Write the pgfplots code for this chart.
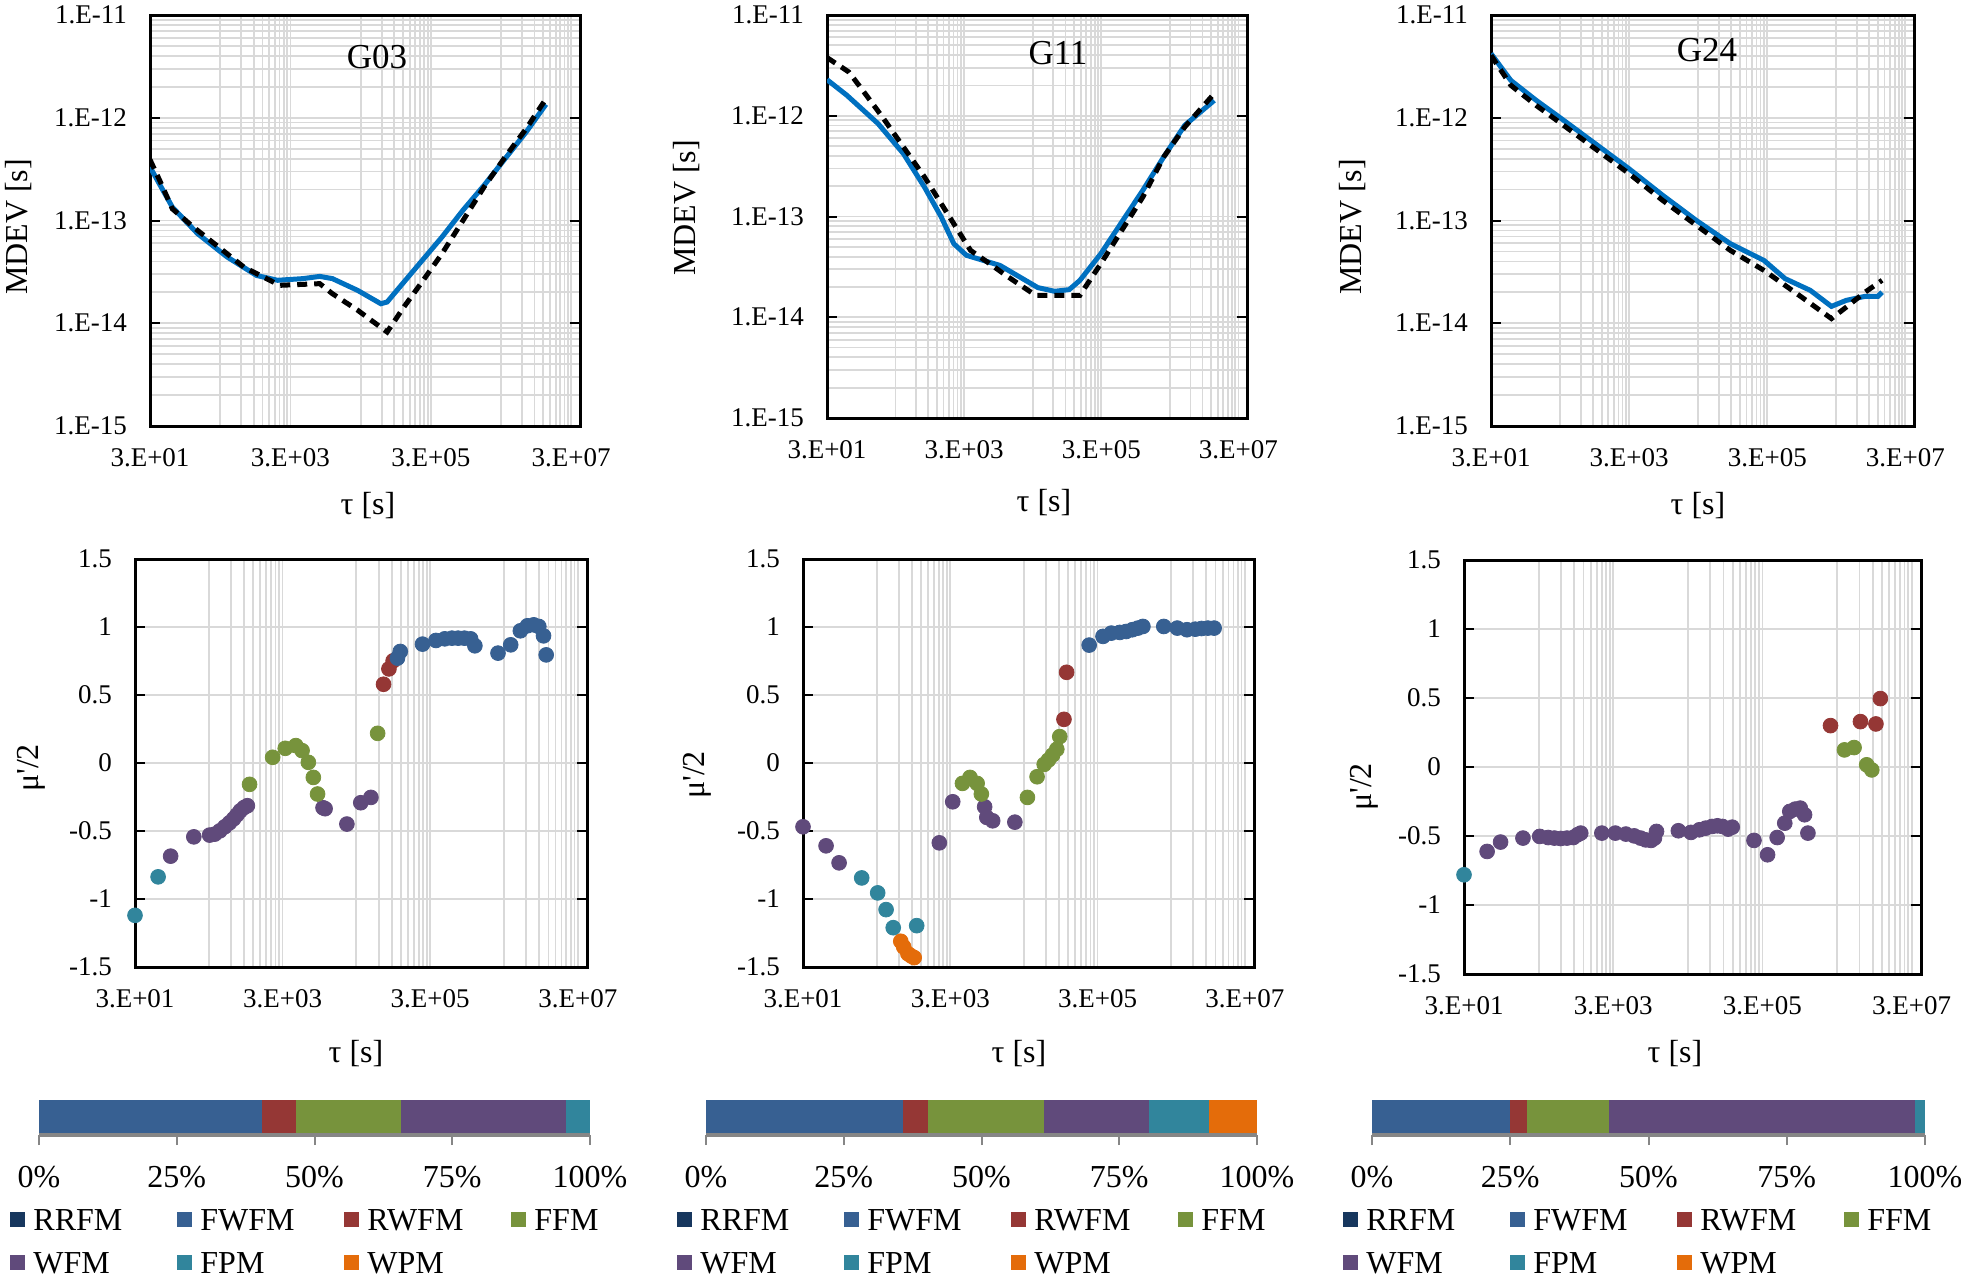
\documentclass[border=0pt]{standalone}
\usepackage{fontspec}
\setmainfont{Liberation Serif}
\newfontfamily\plainserif{Liberation Serif}
\usepackage{pgfplots}
\pgfplotsset{compat=1.18}

\definecolor{rrfm}{HTML}{17375E}
\definecolor{fwfm}{HTML}{376092}
\definecolor{rwfm}{HTML}{953735}
\definecolor{ffm}{HTML}{77933C}
\definecolor{wfm}{HTML}{604A7B}
\definecolor{fpm}{HTML}{31859C}
\definecolor{wpm}{HTML}{E46C0A}
\definecolor{mblue}{HTML}{0070C0}
\definecolor{gridc}{HTML}{D9D9D9}
\definecolor{axgray}{HTML}{868686}

\newcommand{\fsTick}{\fontsize{13.5}{16}\selectfont}
\newcommand{\fsLab}{\fontsize{16}{19}\selectfont}
\newcommand{\fsTitle}{\fontsize{17.5}{20}\selectfont}

\pgfplotsset{
  every axis/.append style={
    major grid style={draw=gridc, line width=0.9pt},
    minor grid style={draw=gridc, line width=0.9pt},
  },
}

\begin{document}
\begin{tikzpicture}
\useasboundingbox (0pt,0pt) rectangle (980.5pt,641pt);

% ---------- top row: MDEV ----------
\begin{axis}[at={(75pt,428pt)}, anchor=south west, scale only axis, width=215pt, height=205.5pt,
    xmode=log, ymode=log, xmin=30, xmax=4e7, ymin=1e-15, ymax=1e-11,
    xtick={30,3000,300000,30000000}, xticklabels={3.E+01,3.E+03,3.E+05,3.E+07},
    minor xtick={300,600,900,1200,1500,1800,2100,2400,2700,30000,60000,90000,120000,150000,180000,210000,240000,270000,3e6,6e6,9e6,1.2e7,1.5e7,1.8e7,2.1e7,2.4e7,2.7e7},
    ytick={1e-15,1e-14,1e-13,1e-12,1e-11}, yticklabels={1.E-15,1.E-14,1.E-13,1.E-12,1.E-11},
    minor ytick={2e-15,3e-15,4e-15,5e-15,6e-15,7e-15,8e-15,9e-15,2e-14,3e-14,4e-14,5e-14,6e-14,7e-14,8e-14,9e-14,2e-13,3e-13,4e-13,5e-13,6e-13,7e-13,8e-13,9e-13,2e-12,3e-12,4e-12,5e-12,6e-12,7e-12,8e-12,9e-12},
    xmajorgrids, xminorgrids, ymajorgrids, yminorgrids,
    axis line style={line width=1.5pt, black},
    tick label style={font=\fsTick}, xticklabel style={yshift=-7.5pt}, yticklabel style={xshift=-8pt},
    xtick style={draw=none}, ytick style={black, line width=1pt},
    tick align=inside, major tick length=5pt, minor tick length=0pt]
\addplot[mblue, line width=2.5pt] coordinates {(30,3.32e-13)(62.4,1.35e-13)(143,7.45e-14)(376,4.42e-14)(989,2.92e-14)(1970,2.62e-14)(4520,2.72e-14)(7850,2.86e-14)(11900,2.72e-14)(27200,2.09e-14)(58200,1.55e-14)(71600,1.61e-14)(108000,2.25e-14)(216000,3.94e-14)(432000,6.90e-14)(861000,1.26e-13)(1.72e6,2.20e-13)(3.43e6,4.00e-13)(6.84e6,7.26e-13)(1.31e7,1.35e-12)};
\addplot[black, line width=2.5pt, dash pattern=on 5pt off 3.5pt] coordinates {(30,3.91e-13)(41.2,2.46e-13)(62.4,1.30e-13)(124,8.65e-14)(285,5.52e-14)(653,3.52e-14)(2110,2.34e-14)(7850,2.43e-14)(11900,1.94e-14)(27200,1.34e-14)(71600,8.22e-15)(124000,1.44e-14)(216000,2.43e-14)(432000,4.75e-14)(861000,1.00e-13)(1.72e6,2.12e-13)(3.43e6,4.15e-13)(6.84e6,7.83e-13)(1.31e7,1.53e-12)};
\end{axis}

\begin{axis}[at={(413.5pt,432pt)}, anchor=south west, scale only axis, width=210pt, height=201.5pt,
    xmode=log, ymode=log, xmin=30, xmax=4e7, ymin=1e-15, ymax=1e-11,
    xtick={30,3000,300000,30000000}, xticklabels={3.E+01,3.E+03,3.E+05,3.E+07},
    minor xtick={300,600,900,1200,1500,1800,2100,2400,2700,30000,60000,90000,120000,150000,180000,210000,240000,270000,3e6,6e6,9e6,1.2e7,1.5e7,1.8e7,2.1e7,2.4e7,2.7e7},
    ytick={1e-15,1e-14,1e-13,1e-12,1e-11}, yticklabels={1.E-15,1.E-14,1.E-13,1.E-12,1.E-11},
    minor ytick={2e-15,3e-15,4e-15,5e-15,6e-15,7e-15,8e-15,9e-15,2e-14,3e-14,4e-14,5e-14,6e-14,7e-14,8e-14,9e-14,2e-13,3e-13,4e-13,5e-13,6e-13,7e-13,8e-13,9e-13,2e-12,3e-12,4e-12,5e-12,6e-12,7e-12,8e-12,9e-12},
    xmajorgrids, xminorgrids, ymajorgrids, yminorgrids,
    axis line style={line width=1.5pt, black},
    tick label style={font=\fsTick}, xticklabel style={yshift=-7.5pt}, yticklabel style={xshift=-8pt},
    xtick style={draw=none}, ytick style={black, line width=1pt},
    tick align=inside, major tick length=5pt, minor tick length=0pt]
\addplot[mblue, line width=2.5pt] coordinates {(30,2.28e-12)(58.2,1.60e-12)(167,8.34e-13)(390,4.21e-13)(791,1.96e-13)(1390,9.89e-14)(2120,5.37e-14)(3240,4.12e-14)(5690,3.67e-14)(10000,3.27e-14)(17600,2.61e-14)(35600,1.97e-14)(62500,1.81e-14)(102000,1.88e-14)(146000,2.32e-14)(295000,4.27e-14)(597000,8.81e-14)(1.21e6,1.82e-13)(2.44e6,3.90e-13)(4.94e6,8.04e-13)(1.33e7,1.42e-12)};
\addplot[black, line width=2.5pt, dash pattern=on 5pt off 3.5pt] coordinates {(30,3.78e-12)(62.4,2.72e-12)(95.3,1.86e-12)(193,9.72e-13)(390,4.90e-13)(791,2.47e-13)(1600,1.15e-13)(3720,4.61e-14)(6550,3.53e-14)(13200,2.51e-14)(33100,1.65e-14)(146000,1.65e-14)(295000,3.40e-14)(597000,7.29e-14)(1.21e6,1.56e-13)(2.44e6,3.90e-13)(4.94e6,7.73e-13)(1.29e7,1.62e-12)};
\end{axis}

\begin{axis}[at={(745.5pt,428pt)}, anchor=south west, scale only axis, width=211.5pt, height=205.5pt,
    xmode=log, ymode=log, xmin=30, xmax=4e7, ymin=1e-15, ymax=1e-11,
    xtick={30,3000,300000,30000000}, xticklabels={3.E+01,3.E+03,3.E+05,3.E+07},
    minor xtick={300,600,900,1200,1500,1800,2100,2400,2700,30000,60000,90000,120000,150000,180000,210000,240000,270000,3e6,6e6,9e6,1.2e7,1.5e7,1.8e7,2.1e7,2.4e7,2.7e7},
    ytick={1e-15,1e-14,1e-13,1e-12,1e-11}, yticklabels={1.E-15,1.E-14,1.E-13,1.E-12,1.E-11},
    minor ytick={2e-15,3e-15,4e-15,5e-15,6e-15,7e-15,8e-15,9e-15,2e-14,3e-14,4e-14,5e-14,6e-14,7e-14,8e-14,9e-14,2e-13,3e-13,4e-13,5e-13,6e-13,7e-13,8e-13,9e-13,2e-12,3e-12,4e-12,5e-12,6e-12,7e-12,8e-12,9e-12},
    xmajorgrids, xminorgrids, ymajorgrids, yminorgrids,
    axis line style={line width=1.5pt, black},
    tick label style={font=\fsTick}, xticklabel style={yshift=-7.5pt}, yticklabel style={xshift=-8pt},
    xtick style={draw=none}, ytick style={black, line width=1pt},
    tick align=inside, major tick length=5pt, minor tick length=0pt]
\addplot[mblue, line width=2.5pt] coordinates {(30,4.21e-12)(58.1,2.31e-12)(135,1.48e-12)(314,9.80e-13)(968,5.60e-13)(2990,3.19e-13)(9180,1.76e-13)(28300,1.00e-13)(87300,5.96e-14)(269000,4.09e-14)(543000,2.72e-14)(1.26e6,2.09e-14)(2.55e6,1.46e-14)(4.17e6,1.67e-14)(7.85e6,1.83e-14)(1.20e7,1.83e-14)(1.38e7,2.01e-14)};
\addplot[black, line width=2.5pt, dash pattern=on 5pt off 3.5pt] coordinates {(30,4.05e-12)(58.1,2.07e-12)(135,1.32e-12)(314,8.75e-13)(968,5.00e-13)(2990,2.86e-13)(9180,1.57e-13)(28300,8.97e-14)(87300,5.13e-14)(269000,3.27e-14)(543000,2.34e-14)(1.10e6,1.67e-14)(2.55e6,1.11e-14)(4.48e6,1.49e-14)(7.85e6,2.01e-14)(1.38e7,2.62e-14)};
\end{axis}

\node[font=\fsTitle] at (188.5pt,612.5pt) {G03};
\node[font=\fsTitle] at (529pt,614.5pt) {G11};
\node[font=\fsTitle] at (853.5pt,616pt) {G24};
\node[font=\fsLab, rotate=90] at (9.5pt,527.5pt) {MDEV [s]};
\node[font=\fsLab, rotate=90] at (343.5pt,537pt) {MDEV [s]};
\node[font=\fsLab, rotate=90] at (676.5pt,527.5pt) {MDEV [s]};
\node[font=\fsLab] at (184pt,388pt) {τ [s]};
\node[font=\fsLab] at (522pt,389.5pt) {τ [s]};
\node[font=\fsLab] at (849pt,388pt) {τ [s]};

% ---------- middle row ----------
\begin{axis}[at={(67.5pt,157.5pt)}, anchor=south west, scale only axis, width=226pt, height=204pt,
    xmode=log, xmin=30, xmax=4e7, ymin=-1.5, ymax=1.5,
    xtick={30,3000,300000,30000000}, xticklabels={3.E+01,3.E+03,3.E+05,3.E+07},
    minor xtick={300,600,900,1200,1500,1800,2100,2400,2700,30000,60000,90000,120000,150000,180000,210000,240000,270000,3e6,6e6,9e6,1.2e7,1.5e7,1.8e7,2.1e7,2.4e7,2.7e7},
    ytick={-1.5,-1,-0.5,0,0.5,1,1.5}, yticklabels={-1.5,-1,-0.5,0,0.5,1,1.5},
    xmajorgrids, xminorgrids, ymajorgrids,
    axis line style={line width=1.5pt, black},
    tick label style={font=\fsTick}, xticklabel style={yshift=-7.5pt}, yticklabel style={xshift=-8pt},
    xtick style={draw=none}, ytick style={black, line width=1pt},
    tick align=inside, major tick length=5pt, minor tick length=0pt]
\addplot[only marks, mark=*, mark size=3.7pt, color=fpm] coordinates {(30,-1.12)(61.7,-0.837)};
\addplot[only marks, mark=*, mark size=3.7pt, color=wfm] coordinates {(91.2,-0.685)(188,-0.543)(308,-0.530)(361,-0.523)(423,-0.499)(494,-0.469)(571,-0.440)(652,-0.410)(723,-0.381)(803,-0.351)(904,-0.327)(1000,-0.314)(10600,-0.329)(11300,-0.336)(22300,-0.449)(34400,-0.292)(47200,-0.253)};
\addplot[only marks, mark=*, mark size=3.7pt, color=ffm] coordinates {(1070,-0.157)(2200,0.042)(3260,0.108)(4530,0.128)(5510,0.091)(6700,0.005)(7830,-0.106)(8930,-0.228)(58200,0.218)};
\addplot[only marks, mark=*, mark size=3.7pt, color=rwfm] coordinates {(70000,0.579)(82800,0.692)(94400,0.751)};
\addplot[only marks, mark=*, mark size=3.7pt, color=fwfm] coordinates {(108000,0.771)(118000,0.820)(236000,0.874)(359000,0.901)(473000,0.913)(592000,0.918)(719000,0.918)(875000,0.918)(1.06e6,0.913)(1.21e6,0.862)(2.49e6,0.808)(3.70e6,0.869)(5.00e6,0.972)(6.24e6,1.009)(7.60e6,1.016)(8.89e6,1.004)(1.03e7,0.935)(1.12e7,0.795)};
\end{axis}

\begin{axis}[at={(401.5pt,157.5pt)}, anchor=south west, scale only axis, width=225.5pt, height=204pt,
    xmode=log, xmin=30, xmax=4e7, ymin=-1.5, ymax=1.5,
    xtick={30,3000,300000,30000000}, xticklabels={3.E+01,3.E+03,3.E+05,3.E+07},
    minor xtick={300,600,900,1200,1500,1800,2100,2400,2700,30000,60000,90000,120000,150000,180000,210000,240000,270000,3e6,6e6,9e6,1.2e7,1.5e7,1.8e7,2.1e7,2.4e7,2.7e7},
    ytick={-1.5,-1,-0.5,0,0.5,1,1.5}, yticklabels={-1.5,-1,-0.5,0,0.5,1,1.5},
    xmajorgrids, xminorgrids, ymajorgrids,
    axis line style={line width=1.5pt, black},
    tick label style={font=\fsTick}, xticklabel style={yshift=-7.5pt}, yticklabel style={xshift=-8pt},
    xtick style={draw=none}, ytick style={black, line width=1pt},
    tick align=inside, major tick length=5pt, minor tick length=0pt]
\addplot[only marks, mark=*, mark size=3.7pt, color=wfm] coordinates {(30,-0.469)(61.7,-0.609)(92.7,-0.734)(2130,-0.587)(3240,-0.285)(8790,-0.322)(9400,-0.400)(11300,-0.425)(22600,-0.435)};
\addplot[only marks, mark=*, mark size=3.7pt, color=fpm] coordinates {(188,-0.845)(310,-0.955)(403,-1.078)(504,-1.211)(1050,-1.196)};
\addplot[only marks, mark=*, mark size=3.7pt, color=wpm] coordinates {(638,-1.311)(700,-1.353)(798,-1.402)(885,-1.419)(971,-1.431)};
\addplot[only marks, mark=*, mark size=3.7pt, color=ffm] coordinates {(4390,-0.150)(5560,-0.106)(6950,-0.150)(7930,-0.228)(33500,-0.253)(45300,-0.101)(56600,-0.010)(64600,0.022)(73600,0.059)(83900,0.101)(92000,0.194)};
\addplot[only marks, mark=*, mark size=3.7pt, color=rwfm] coordinates {(105000,0.321)(114000,0.667)};
\addplot[only marks, mark=*, mark size=3.7pt, color=fwfm] coordinates {(231000,0.867)(356000,0.931)(462000,0.955)(601000,0.960)(733000,0.967)(891000,0.980)(1.06e6,0.992)(1.24e6,1.004)(2.38e6,1.004)(3.63e6,0.992)(4.91e6,0.980)(6.38e6,0.984)(7.76e6,0.989)(9.46e6,0.992)(1.15e7,0.992)};
\end{axis}

\begin{axis}[at={(732pt,154pt)}, anchor=south west, scale only axis, width=228.5pt, height=207pt,
    xmode=log, xmin=30, xmax=4e7, ymin=-1.5, ymax=1.5,
    xtick={30,3000,300000,30000000}, xticklabels={3.E+01,3.E+03,3.E+05,3.E+07},
    minor xtick={300,600,900,1200,1500,1800,2100,2400,2700,30000,60000,90000,120000,150000,180000,210000,240000,270000,3e6,6e6,9e6,1.2e7,1.5e7,1.8e7,2.1e7,2.4e7,2.7e7},
    ytick={-1.5,-1,-0.5,0,0.5,1,1.5}, yticklabels={-1.5,-1,-0.5,0,0.5,1,1.5},
    xmajorgrids, xminorgrids, ymajorgrids,
    axis line style={line width=1.5pt, black},
    tick label style={font=\fsTick}, xticklabel style={yshift=-7.5pt}, yticklabel style={xshift=-8pt},
    xtick style={draw=none}, ytick style={black, line width=1pt},
    tick align=inside, major tick length=5pt, minor tick length=0pt]
\addplot[only marks, mark=*, mark size=3.7pt, color=fpm] coordinates {(30,-0.781)};
\addplot[only marks, mark=*, mark size=3.7pt, color=wfm] coordinates {(61.2,-0.612)(92.7,-0.544)(185,-0.515)(310,-0.503)(402,-0.511)(488,-0.515)(593,-0.518)(719,-0.515)(875,-0.511)(995,-0.491)(1100,-0.479)(2110,-0.479)(3200,-0.479)(4430,-0.486)(5730,-0.499)(6970,-0.515)(8150,-0.528)(9640,-0.532)(10700,-0.515)(11400,-0.467)(22400,-0.462)(33000,-0.474)(42900,-0.455)(52000,-0.443)(63200,-0.431)(74800,-0.426)(87500,-0.431)(104000,-0.450)(118000,-0.436)(231000,-0.532)(351000,-0.636)(472000,-0.511)(597000,-0.407)(697000,-0.322)(826000,-0.305)(964000,-0.298)(1.10e6,-0.346)(1.22e6,-0.479)};
\addplot[only marks, mark=*, mark size=3.7pt, color=rwfm] coordinates {(2.45e6,0.300)(6.17e6,0.329)(9.95e6,0.312)(1.14e7,0.496)};
\addplot[only marks, mark=*, mark size=3.7pt, color=ffm] coordinates {(3.77e6,0.124)(5.07e6,0.141)(7.48e6,0.016)(8.75e6,-0.021)};
\end{axis}

\node[font=\fsLab, rotate=90] at (15.5pt,257pt) {\plainserif μ'/2};
\node[font=\fsLab, rotate=90] at (348.5pt,253.5pt) {\plainserif μ'/2};
\node[font=\fsLab, rotate=90] at (682pt,247.5pt) {\plainserif μ'/2};
\node[font=\fsLab] at (178pt,114pt) {τ [s]};
\node[font=\fsLab] at (509.5pt,114pt) {τ [s]};
\node[font=\fsLab] at (837.5pt,114pt) {τ [s]};

% ---------- bottom row: stacked bars ----------
\pgfplotsset{
  sqleg/.style={legend image code/.code={\fill[##1] (0pt,-2.5pt) rectangle (7.5pt,5pt);}},
}
\begin{axis}[at={(19.5pt,73.5pt)}, anchor=south west, scale only axis, width=275.5pt, height=17.5pt,
    xbar stacked, bar width=16.5pt, xmin=0, xmax=100, ymin=0, ymax=1,
    axis x line*=bottom, axis y line=none, x axis line style={axgray, line width=2pt},
    xtick={0,25,50,75,100}, xticklabels={0\%,25\%,50\%,75\%,100\%},
    xtick style={axgray, line width=1pt}, tick align=outside, major tick length=5pt,
    xticklabel style={font=\fsLab, yshift=-7pt}, ytick=\empty,
    legend columns=4, legend cell align=left,
    legend style={at={(-0.0526,-2.08)}, anchor=north west, draw=none, fill=none,
      inner sep=0pt, column sep=0pt, row sep=7.5pt, font=\fsLab,
      nodes={text width=68pt, inner xsep=4pt, inner ysep=0pt, text height=11pt, text depth=3pt}}]
\addlegendimage{sqleg, fill=rrfm, draw=none}
\addplot[sqleg, fill=fwfm, draw=none] coordinates {(40.4,0.53)};
\addplot[sqleg, fill=rwfm, draw=none] coordinates {(6.3,0.53)};
\addplot[sqleg, fill=ffm, draw=none] coordinates {(19.0,0.53)};
\addplot[sqleg, fill=wfm, draw=none] coordinates {(30.0,0.53)};
\addplot[sqleg, fill=fpm, draw=none] coordinates {(4.3,0.53)};
\addlegendimage{sqleg, fill=wpm, draw=none}
\legend{RRFM,FWFM,RWFM,FFM,WFM,FPM,WPM}
\end{axis}

\begin{axis}[at={(353pt,73.5pt)}, anchor=south west, scale only axis, width=275.5pt, height=17.5pt,
    xbar stacked, bar width=16.5pt, xmin=0, xmax=100, ymin=0, ymax=1,
    axis x line*=bottom, axis y line=none, x axis line style={axgray, line width=2pt},
    xtick={0,25,50,75,100}, xticklabels={0\%,25\%,50\%,75\%,100\%},
    xtick style={axgray, line width=1pt}, tick align=outside, major tick length=5pt,
    xticklabel style={font=\fsLab, yshift=-7pt}, ytick=\empty,
    legend columns=4, legend cell align=left,
    legend style={at={(-0.0526,-2.08)}, anchor=north west, draw=none, fill=none,
      inner sep=0pt, column sep=0pt, row sep=7.5pt, font=\fsLab,
      nodes={text width=68pt, inner xsep=4pt, inner ysep=0pt, text height=11pt, text depth=3pt}}]
\addlegendimage{sqleg, fill=rrfm, draw=none}
\addplot[sqleg, fill=fwfm, draw=none] coordinates {(35.8,0.53)};
\addplot[sqleg, fill=rwfm, draw=none] coordinates {(4.5,0.53)};
\addplot[sqleg, fill=ffm, draw=none] coordinates {(21.1,0.53)};
\addplot[sqleg, fill=wfm, draw=none] coordinates {(19.0,0.53)};
\addplot[sqleg, fill=fpm, draw=none] coordinates {(10.9,0.53)};
\addplot[sqleg, fill=wpm, draw=none] coordinates {(8.7,0.53)};
\legend{RRFM,FWFM,RWFM,FFM,WFM,FPM,WPM}
\end{axis}

\begin{axis}[at={(686pt,73.5pt)}, anchor=south west, scale only axis, width=276.5pt, height=17.5pt,
    xbar stacked, bar width=16.5pt, xmin=0, xmax=100, ymin=0, ymax=1,
    axis x line*=bottom, axis y line=none, x axis line style={axgray, line width=2pt},
    xtick={0,25,50,75,100}, xticklabels={0\%,25\%,50\%,75\%,100\%},
    xtick style={axgray, line width=1pt}, tick align=outside, major tick length=5pt,
    xticklabel style={font=\fsLab, yshift=-7pt}, ytick=\empty,
    legend columns=4, legend cell align=left,
    legend style={at={(-0.0526,-2.08)}, anchor=north west, draw=none, fill=none,
      inner sep=0pt, column sep=0pt, row sep=7.5pt, font=\fsLab,
      nodes={text width=68pt, inner xsep=4pt, inner ysep=0pt, text height=11pt, text depth=3pt}}]
\addlegendimage{sqleg, fill=rrfm, draw=none}
\addplot[sqleg, fill=fwfm, draw=none] coordinates {(24.9,0.53)};
\addplot[sqleg, fill=rwfm, draw=none] coordinates {(3.2,0.53)};
\addplot[sqleg, fill=ffm, draw=none] coordinates {(14.7,0.53)};
\addplot[sqleg, fill=wfm, draw=none] coordinates {(55.4,0.53)};
\addplot[sqleg, fill=fpm, draw=none] coordinates {(1.8,0.53)};
\addlegendimage{sqleg, fill=wpm, draw=none}
\legend{RRFM,FWFM,RWFM,FFM,WFM,FPM,WPM}
\end{axis}

\end{tikzpicture}
\end{document}
